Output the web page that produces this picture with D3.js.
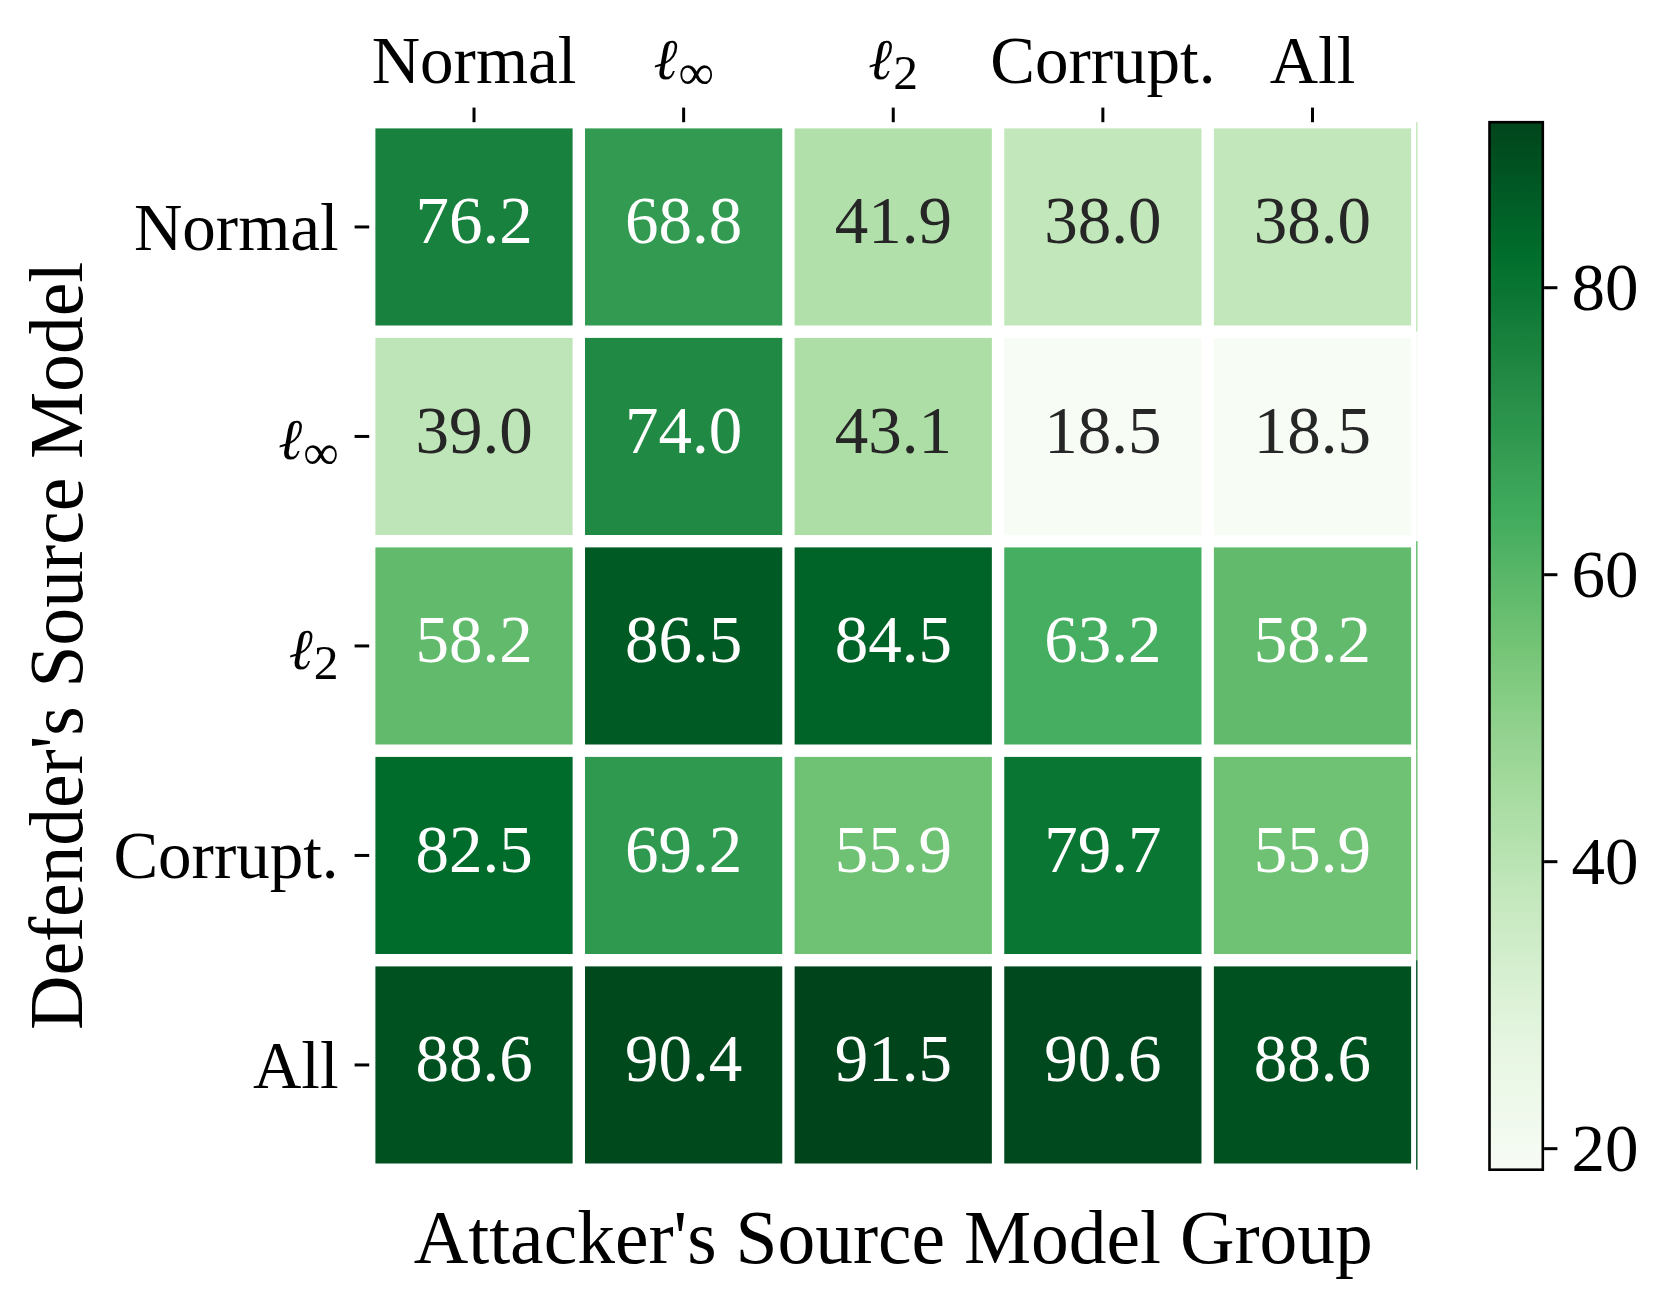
<!DOCTYPE html>
<html>
<head>
<meta charset="utf-8">
<script src="https://cdn.jsdelivr.net/npm/d3@7"></script>
<style>
  html, body { margin: 0; padding: 0; background: #ffffff; }
  svg { display: block; }
  text { font-family: "Liberation Serif", "Times New Roman", serif; }
</style>
</head>
<body>
<svg id="chart" width="1667" height="1308"></svg>
<script>
// ---------------- data ----------------
const colLabels = ["Normal", "ℓ_∞", "ℓ_2", "Corrupt.", "All"];   // attacker's source model group
const rowLabels = ["Normal", "ℓ_∞", "ℓ_2", "Corrupt.", "All"];   // defender's source model
const rowNormal  = [76.2, 68.8, 41.9, 38.0, 38.0];
const rowLinf    = [39.0, 74.0, 43.1, 18.5, 18.5];
const rowL2      = [58.2, 86.5, 84.5, 63.2, 58.2];
const rowCorrupt = [82.5, 69.2, 55.9, 79.7, 55.9];
const rowAll     = [88.6, 90.4, 91.5, 90.6, 88.6];
const colorbarTicks = [20, 40, 60, 80];
const xTitle = "Attacker's Source Model Group";
const yTitle = "Defender's Source Model";
const greens9 = ["#f7fcf5", "#e5f5e0", "#c7e9c0", "#a1d99b", "#74c476",
                 "#41ab5d", "#238b45", "#006d2c", "#00441b"];

const rowsData = [rowNormal, rowLinf, rowL2, rowCorrupt, rowAll];

// ---------------- layout ----------------
const ax = { left: 369.2, right: 1417.3, top: 122.2, bottom: 1169.7 };
const gap = 12.4;
const tickFs = 67, titleFs = 75.5;
const cb = { left: 1489.5, right: 1542.8 };
const lumThreshold = 0.45;

const svg = d3.select("#chart");

const cells = [];
rowsData.forEach((r, i) => r.forEach((v, j) => cells.push({ row: rowLabels[i], col: colLabels[j], v })));
const vmin = d3.min(cells, d => d.v), vmax = d3.max(cells, d => d.v);

const x = d3.scaleBand().domain(colLabels).range([ax.left, ax.right]).padding(0);
const y = d3.scaleBand().domain(rowLabels).range([ax.top, ax.bottom]).padding(0);

// matplotlib-like linear "Greens"
const color = d3.scaleLinear()
  .domain(greens9.map((_, k) => vmin + (vmax - vmin) * k / (greens9.length - 1)))
  .range(greens9)
  .interpolate(d3.interpolateRgb)
  .clamp(true);

function luminance(c) {
  const rgb = d3.rgb(c);
  const f = u => { u /= 255; return u <= 0.03928 ? u / 12.92 : Math.pow((u + 0.055) / 1.055, 2.4); };
  return 0.2126 * f(rgb.r) + 0.7152 * f(rgb.g) + 0.0722 * f(rgb.b);
}

// thin artifact line at the right edge of the mesh
svg.append("g").selectAll("rect")
  .data(cells.filter(d => d.col === colLabels[colLabels.length - 1]))
  .join("rect")
  .attr("x", ax.right - 1.2)
  .attr("y", d => y(d.row))
  .attr("width", 1.4)
  .attr("height", y.bandwidth())
  .attr("fill", d => color(d.v));

// cells
svg.append("g").selectAll("rect")
  .data(cells)
  .join("rect")
  .attr("x", d => x(d.col) + gap / 2)
  .attr("y", d => y(d.row) + gap / 2)
  .attr("width", x.bandwidth() - gap)
  .attr("height", y.bandwidth() - gap)
  .attr("fill", d => color(d.v));

// annotations
svg.append("g").selectAll("text")
  .data(cells)
  .join("text")
  .attr("x", d => x(d.col) + x.bandwidth() / 2)
  .attr("y", d => y(d.row) + y.bandwidth() / 2 + 16.3)
  .attr("text-anchor", "middle")
  .attr("font-size", tickFs)
  .attr("fill", d => luminance(color(d.v)) > lumThreshold ? "#262626" : "#ffffff")
  .text(d => d.v.toFixed(1));

// label with optional subscript
function setLabel(sel, shift) {
  sel.each(function (d) {
    const t = d3.select(this);
    t.text(null);
    const parts = String(d).split("_");
    if (parts.length === 1) { t.text(parts[0]); return; }
    if (shift) t.attr("y", +t.attr("y") + shift);
    t.append("tspan")
      .attr("font-family", "DejaVu Serif, serif")
      .attr("font-style", "italic")
      .attr("font-size", "0.86em")
      .text(parts[0]);
    t.append("tspan").attr("font-size", "0.74em").attr("dy", "0.2em").attr("dx", "0.02em").text(parts[1]);
  });
}

// top axis
const gTop = svg.append("g")
  .attr("transform", `translate(0,${ax.top})`)
  .call(d3.axisTop(x).tickSize(14.6).tickPadding(24.3));
gTop.select(".domain").remove();
gTop.selectAll(".tick line").attr("stroke", "#000").attr("stroke-width", 3);
gTop.selectAll(".tick text")
  .attr("font-family", "Liberation Serif, Times New Roman, serif")
  .attr("font-size", tickFs).attr("fill", "#000")
  .call(setLabel, -4);

// left axis
const gLeft = svg.append("g")
  .attr("transform", `translate(${ax.left},0)`)
  .call(d3.axisLeft(y).tickSize(14.6).tickPadding(16));
gLeft.select(".domain").remove();
gLeft.selectAll(".tick line").attr("stroke", "#000").attr("stroke-width", 3);
gLeft.selectAll(".tick text")
  .attr("font-family", "Liberation Serif, Times New Roman, serif")
  .attr("font-size", tickFs).attr("fill", "#000")
  .attr("dy", "0.34em")
  .call(setLabel, 0);

// axis titles
svg.append("text")
  .attr("x", (ax.left + ax.right) / 2)
  .attr("y", 1263)
  .attr("text-anchor", "middle")
  .attr("font-size", titleFs)
  .attr("fill", "#000")
  .text(xTitle);

svg.append("text")
  .attr("transform", `translate(82,${(ax.top + ax.bottom) / 2}) rotate(-90)`)
  .attr("text-anchor", "middle")
  .attr("font-size", titleFs)
  .attr("fill", "#000")
  .text(yTitle);

// colorbar
const cScale = d3.scaleLinear().domain([vmin, vmax]).range([ax.bottom, ax.top]);
const defs = svg.append("defs");
const grad = defs.append("linearGradient")
  .attr("id", "cbgrad").attr("x1", 0).attr("y1", 1).attr("x2", 0).attr("y2", 0);
d3.range(0, 257).forEach(k => {
  const t = k / 256;
  grad.append("stop").attr("offset", t).attr("stop-color", color(vmin + t * (vmax - vmin)));
});
svg.append("rect")
  .attr("x", cb.left).attr("y", ax.top)
  .attr("width", cb.right - cb.left).attr("height", ax.bottom - ax.top)
  .attr("fill", "url(#cbgrad)")
  .attr("stroke", "#000").attr("stroke-width", 2.6);

const gCb = svg.append("g")
  .attr("transform", `translate(${cb.right + 1.3},0)`)
  .call(d3.axisRight(cScale).tickValues(colorbarTicks).tickSize(13.3).tickPadding(14));
gCb.select(".domain").remove();
gCb.selectAll(".tick line").attr("stroke", "#000").attr("stroke-width", 3);
gCb.selectAll(".tick text")
  .attr("font-family", "Liberation Serif, Times New Roman, serif")
  .attr("font-size", tickFs).attr("fill", "#000")
  .attr("dy", "0.34em");
</script>
</body>
</html>
